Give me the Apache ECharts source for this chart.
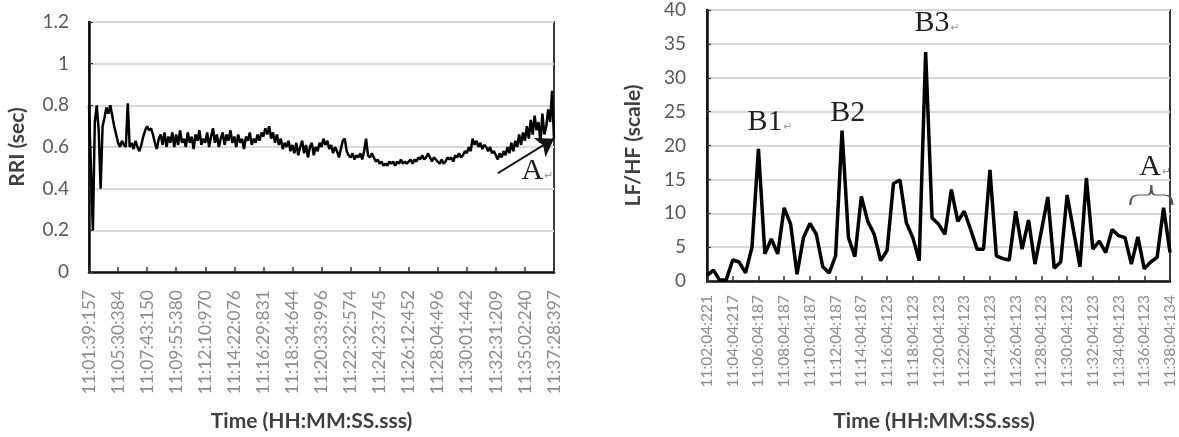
<!DOCTYPE html>
<html>
<head>
<meta charset="utf-8">
<title>RRI / LF-HF</title>
<script src="https://cdn.jsdelivr.net/npm/echarts@6/dist/echarts.min.js"></script>
<style>
  html, body { margin: 0; padding: 0; background: #fff; }
  #main { width: 1179px; height: 437px; }
</style>
</head>
<body>
<div id="main"></div>
<script>
// 左图：RRI (sec)，每 15 个点一个刻度
var rriLabels = ['11:01:39:157', '11:05:30:384', '11:07:43:150', '11:09:55:380', '11:12:10:970',
  '11:14:22:076', '11:16:29:831', '11:18:34:644', '11:20:33:996', '11:22:32:574', '11:24:23:745',
  '11:26:12:452', '11:28:04:496', '11:30:01:442', '11:32:31:209', '11:35:02:240', '11:37:28:397'];
var rriStep = 15;
var rriValues = [
  0.80, 0.80, 0.20, 0.72, 0.80, 0.68, 0.40, 0.70, 0.74, 0.79, 0.76, 0.80, 0.75, 0.70, 0.66,
  0.62, 0.60, 0.63, 0.61, 0.60, 0.81, 0.60, 0.62, 0.59, 0.63, 0.60, 0.58, 0.61, 0.65, 0.68,
  0.70, 0.68, 0.69, 0.66, 0.62, 0.59, 0.64, 0.66, 0.61, 0.67, 0.60, 0.65, 0.62, 0.67, 0.60,
  0.66, 0.61, 0.68, 0.62, 0.64, 0.60, 0.67, 0.62, 0.65, 0.59, 0.66, 0.63, 0.68, 0.61, 0.64,
  0.62, 0.67, 0.60, 0.65, 0.69, 0.62, 0.66, 0.60, 0.64, 0.67, 0.61, 0.66, 0.63, 0.68, 0.62,
  0.65, 0.60, 0.66, 0.62, 0.64, 0.59, 0.65, 0.63, 0.67, 0.61, 0.64, 0.62, 0.66, 0.63, 0.67,
  0.65, 0.69, 0.66, 0.70, 0.64, 0.67, 0.62, 0.66, 0.61, 0.64, 0.59, 0.62, 0.60, 0.63, 0.58,
  0.61, 0.57, 0.62, 0.56, 0.60, 0.63, 0.57, 0.61, 0.55, 0.60, 0.62, 0.56, 0.60, 0.58, 0.62,
  0.60, 0.64, 0.61, 0.63, 0.59, 0.61, 0.57, 0.60, 0.58, 0.55, 0.59, 0.63, 0.64, 0.58, 0.56,
  0.55, 0.57, 0.54, 0.56, 0.55, 0.57, 0.54, 0.58, 0.64, 0.56, 0.55, 0.57, 0.55, 0.53, 0.54,
  0.52, 0.53, 0.51, 0.52, 0.51, 0.53, 0.52, 0.53, 0.51, 0.53, 0.52, 0.54, 0.52, 0.53, 0.52,
  0.53, 0.54, 0.52, 0.54, 0.53, 0.55, 0.54, 0.56, 0.54, 0.55, 0.57, 0.55, 0.53, 0.55, 0.54,
  0.53, 0.52, 0.54, 0.52, 0.53, 0.55, 0.54, 0.55, 0.53, 0.56, 0.55, 0.57, 0.55, 0.56, 0.58,
  0.57, 0.60, 0.58, 0.64, 0.61, 0.63, 0.60, 0.62, 0.59, 0.61, 0.60, 0.58, 0.60, 0.57, 0.58,
  0.56, 0.54, 0.57, 0.55, 0.58, 0.56, 0.60, 0.57, 0.62, 0.58, 0.63, 0.60, 0.66, 0.61, 0.67,
  0.63, 0.70, 0.64, 0.73, 0.66, 0.75, 0.68, 0.72, 0.62, 0.76, 0.66, 0.70, 0.78, 0.72, 0.87, 0.64
];

// 右图：LF/HF (scale)，30 秒一个点，每 4 个点一个刻度
var lfhfLabels = ['11:02:04:221', '11:04:04:217', '11:06:04:187', '11:08:04:187', '11:10:04:187',
  '11:12:04:187', '11:14:04:187', '11:16:04:123', '11:18:04:123', '11:20:04:123', '11:22:04:123',
  '11:24:04:123', '11:26:04:123', '11:28:04:123', '11:30:04:123', '11:32:04:123', '11:34:04:123',
  '11:36:04:123', '11:38:04:134'];
var lfhfStep = 4;
var lfhfValues = [
  0.8, 1.6, 0.1, 0.2, 3.1, 2.8, 1.2, 5.0, 19.5, 4.0,
  6.2, 4.0, 10.8, 8.4, 1.0, 6.4, 8.5, 6.9, 2.1, 1.2,
  3.7, 22.2, 6.4, 3.6, 12.5, 8.8, 6.9, 3.0, 4.5, 14.4,
  14.9, 8.6, 6.4, 3.0, 33.8, 9.3, 8.4, 6.9, 13.5, 8.8,
  10.3, 7.6, 4.7, 4.7, 16.4, 3.7, 3.3, 3.1, 10.3, 4.7,
  9.0, 2.5, 7.4, 12.4, 1.9, 2.8, 12.7, 7.4, 2.1, 15.2,
  4.7, 5.9, 4.2, 7.6, 6.7, 6.4, 2.5, 6.5, 1.8, 2.8,
  3.5, 10.8, 4.2
];

// 注释文字
var peakNotes = [
  { text: 'B1', mark: true, at: [9.8, 23.4] },
  { text: 'B2', mark: false, at: [21.9, 24.8] },
  { text: 'B3', mark: true, at: [35.8, 38.0] },
  { text: 'A', mark: true, at: [69.7, 16.8] }
];

function toPairs(values) {
  return values.map(function (v, i) { return [i, v]; });
}

var serifFont = '"Liberation Serif", "DejaVu Serif", serif';
var sansFont = 'Lato, "Open Sans", sans-serif';

var noteRich = {
  t: { fontFamily: serifFont, fontSize: 30, color: '#1f1f1f' },
  r: { fontFamily: '"DejaVu Sans", sans-serif', fontSize: 11, color: '#9a9a9a', padding: [10, 0, 0, 1] }
};

function noteLabel(n) {
  return '{t|' + n.text + '}' + (n.mark ? '{r|↵}' : '');
}

function axisStyle(labels, step, xmax, labelSize, margin) {
  return {
    type: 'value',
    min: 0,
    max: xmax,
    interval: step,
    axisLine: { lineStyle: { color: '#111', width: 2.5 } },
    axisTick: { show: true, inside: true, length: 5, lineStyle: { color: '#333', width: 1.5 } },
    splitLine: { show: false },
    axisLabel: {
      rotate: 90,
      margin: margin,
      color: '#8c8c8c',
      fontFamily: sansFont,
      fontSize: labelSize,
      formatter: function (v) {
        if (v % step !== 0) return '';
        return labels[v / step] || '';
      }
    }
  };
}

var yCommon = {
  type: 'value',
  nameLocation: 'middle',
  nameTextStyle: { fontFamily: sansFont, fontWeight: 'bold', fontSize: 21, color: '#404040' },
  axisLine: { show: true, lineStyle: { color: '#111', width: 2.5 } },
  axisTick: { show: true, inside: true, length: 4, lineStyle: { color: '#333', width: 1.2 } },
  splitLine: { lineStyle: { color: '#d9d9d9', width: 2 } },
  axisLabel: { color: '#595959', fontFamily: sansFont, fontSize: 19 }
};

var xLeft = axisStyle(rriLabels, rriStep, rriStep * (rriLabels.length - 1), 17.5, 18);
xLeft.gridIndex = 0;
xLeft.name = 'Time (HH:MM:SS.sss)';
xLeft.nameLocation = 'middle';
xLeft.nameGap = 139;
xLeft.nameTextStyle = { fontFamily: sansFont, fontWeight: 'bold', fontSize: 21, color: '#404040', padding: [0, 20, 0, 0] };

var xRight = axisStyle(lfhfLabels, lfhfStep, lfhfStep * (lfhfLabels.length - 1), 15.5, 14);
xRight.gridIndex = 1;
xRight.name = 'Time (HH:MM:SS.sss)';
xRight.nameLocation = 'middle';
xRight.nameGap = 130;
xRight.nameTextStyle = { fontFamily: sansFont, fontWeight: 'bold', fontSize: 21, color: '#404040', padding: [0, 9, 0, 0] };

var yLeft = Object.assign({}, yCommon, {
  gridIndex: 0, min: 0, max: 1.2, interval: 0.2,
  name: 'RRI (sec)', nameGap: 61,
  axisLabel: Object.assign({}, yCommon.axisLabel, { margin: 20 })
});
var yRight = Object.assign({}, yCommon, {
  gridIndex: 1, min: 0, max: 40, interval: 5,
  name: 'LF/HF (scale)', nameGap: 63,
  axisLabel: Object.assign({}, yCommon.axisLabel, { margin: 21 })
});

var option = {
  animation: false,
  backgroundColor: '#fff',
  grid: [
    { left: 89, top: 22, width: 465, height: 253, show: true, borderColor: '#3a3a3a', borderWidth: 2, backgroundColor: 'transparent' },
    { left: 707, top: 10, width: 463, height: 274, show: true, borderColor: '#3a3a3a', borderWidth: 2, backgroundColor: 'transparent' }
  ],
  xAxis: [xLeft, xRight],
  yAxis: [yLeft, yRight],
  series: [
    {
      // RRI
      type: 'line',
      xAxisIndex: 0,
      yAxisIndex: 0,
      data: toPairs(rriValues),
      showSymbol: false,
      lineStyle: { color: '#000', width: 2.5 },
      markPoint: {
        symbol: 'circle',
        symbolSize: 1,
        itemStyle: { color: 'rgba(0,0,0,0)' },
        label: { show: true, position: 'inside', rich: noteRich },
        data: [{ coord: [231.5, 0.483], label: { formatter: '{t|A}{r|↵}' } }]
      },
      markLine: {
        silent: true,
        symbol: ['none', 'arrow'],
        symbolSize: 17,
        label: { show: false },
        lineStyle: { type: 'solid', color: '#111', width: 2 },
        data: [[{ coord: [211, 0.474] }, { coord: [240, 0.64] }]]
      }
    },
    {
      // LF/HF
      type: 'line',
      xAxisIndex: 1,
      yAxisIndex: 1,
      data: toPairs(lfhfValues),
      showSymbol: false,
      lineStyle: { color: '#000', width: 3.5 },
      markPoint: {
        symbol: 'circle',
        symbolSize: 1,
        itemStyle: { color: 'rgba(0,0,0,0)' },
        label: { show: true, position: 'inside', rich: noteRich },
        data: peakNotes.map(function (n) {
          return { coord: n.at, label: { formatter: noteLabel(n) } };
        }).concat([{
          // A 下方的大括号
          coord: [69.1, 12.7],
          symbol: 'path://M0,20 C0,12 3,10 9,10 L17,10 C20,10 21,7 21,0 C21,7 22,10 25,10 L33,10 C39,10 42,12 42,20',
          symbolSize: [42, 20],
          itemStyle: { color: 'rgba(0,0,0,0)', borderColor: '#555', borderWidth: 1.5 },
          label: { show: false }
        }])
      }
    }
  ]
};

var myChart = echarts.init(document.getElementById('main'));
myChart.setOption(option);
</script>
</body>
</html>
